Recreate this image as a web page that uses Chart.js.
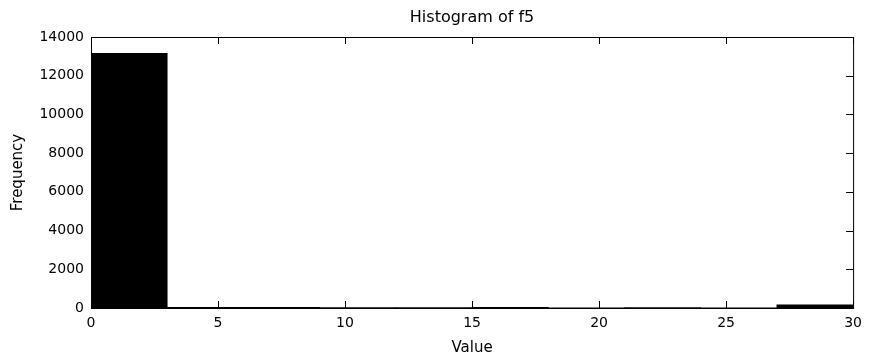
<!DOCTYPE html>
<html>
<head>
<meta charset="utf-8">
<script src="https://cdn.jsdelivr.net/npm/chart.js@4.4.0/dist/chart.umd.min.js"></script>
<style>
  body { margin: 0; background: #fff; }
  canvas { display: block; }
</style>
</head>
<body>
<canvas id="myChart" width="869" height="361"></canvas>
<script>
// histogram bins (width 3) and counts
const binCenters = [1.5, 4.5, 7.5, 10.5, 13.5, 16.5, 19.5, 22.5, 25.5, 28.5];
const counts = [13150, 40, 35, 25, 20, 30, 15, 25, 15, 170];
const xTicks = [0, 5, 10, 15, 20, 25, 30];
const yTicks = [0, 2000, 4000, 6000, 8000, 10000, 12000, 14000];

const fam = 'DejaVu Sans, Liberation Sans, Arial, sans-serif';
const tickFont = { family: fam, size: 14 };
const labelFont = { family: fam, size: 15 };

// matlab-style frame with inward ticks on all four sides
const frameTicks = {
  id: 'frameTicks',
  afterDraw(chart) {
    const c = chart.ctx;
    const a = chart.chartArea;
    const xs = chart.scales.x, ys = chart.scales.y;
    c.save();
    c.strokeStyle = '#000';
    c.lineWidth = 1;
    c.strokeRect(a.left + 0.5, a.top + 0.5, a.right - a.left, a.bottom - a.top);
    c.beginPath();
    xTicks.forEach(v => {
      const px = Math.round(xs.getPixelForValue(v)) + 0.5;
      c.moveTo(px, a.bottom); c.lineTo(px, a.bottom - 7);
      c.moveTo(px, a.top); c.lineTo(px, a.top + 7);
    });
    yTicks.forEach(v => {
      const py = Math.round(ys.getPixelForValue(v)) + 0.5;
      c.moveTo(a.left, py); c.lineTo(a.left + 7, py);
      c.moveTo(a.right, py); c.lineTo(a.right - 7, py);
    });
    c.stroke();
    c.restore();
  }
};

new Chart(document.getElementById('myChart'), {
  type: 'bar',
  data: {
    datasets: [{
      data: binCenters.map((x, i) => ({ x: x, y: counts[i] })),
      backgroundColor: '#000',
      borderWidth: 0,
      barPercentage: 1,
      categoryPercentage: 1
    }]
  },
  options: {
    responsive: false,
    animation: false,
    layout: { padding: { right: 13, left: 0, top: 0, bottom: 0 } },
    plugins: {
      legend: { display: false },
      tooltip: { enabled: false },
      title: {
        display: true,
        fullSize: false,
        text: 'Histogram of f5',
        color: '#000',
        font: { family: fam, size: 16, weight: 'normal' },
        padding: { top: 8, bottom: 9.8 }
      }
    },
    scales: {
      x: {
        type: 'linear',
        min: 0,
        max: 30,
        offset: false,
        afterBuildTicks: s => { s.ticks = xTicks.map(v => ({ value: v })); },
        afterFit: s => { s.height = 53; },
        grid: { display: false, drawTicks: false },
        border: { display: false },
        ticks: { color: '#000', font: tickFont, padding: 7, maxRotation: 0 },
        title: { display: true, text: 'Value', color: '#000', font: labelFont, padding: { top: 2, bottom: 4 } }
      },
      y: {
        min: 0,
        max: 14000,
        afterBuildTicks: s => { s.ticks = yTicks.map(v => ({ value: v })); },
        afterFit: s => { s.width = 91; },
        grid: { display: false, drawTicks: false },
        border: { display: false },
        ticks: { color: '#000', font: tickFont, padding: 7, callback: v => String(v) },
        title: { display: true, text: 'Frequency', color: '#000', font: labelFont, padding: { top: 9, bottom: 4 } }
      }
    }
  },
  plugins: [frameTicks]
});
</script>
</body>
</html>
